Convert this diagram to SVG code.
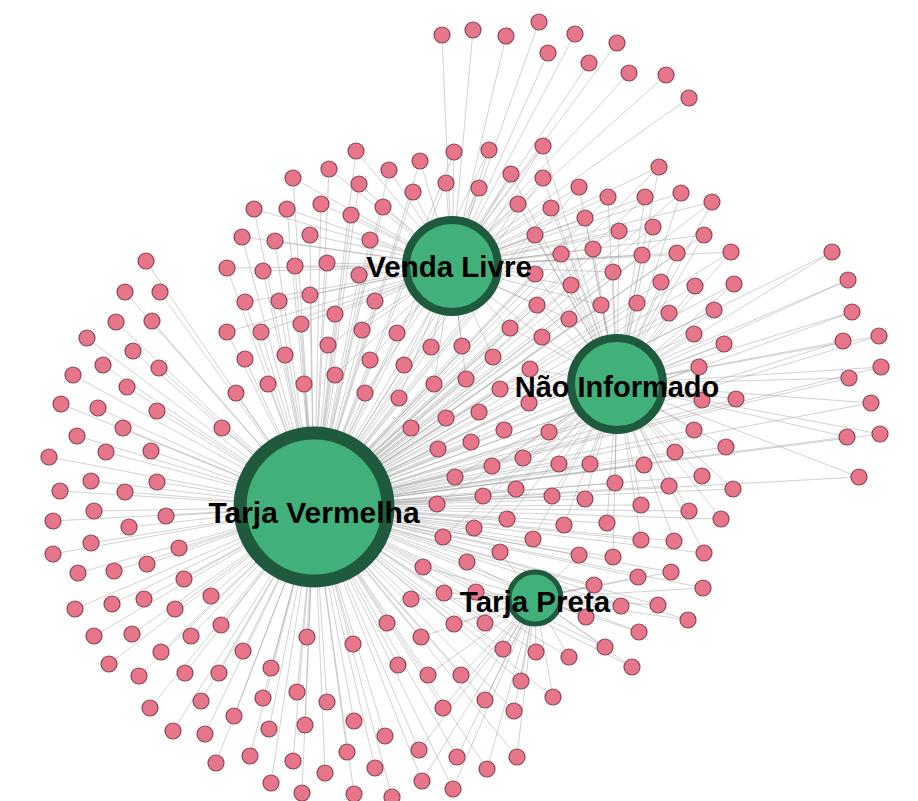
<svg xmlns="http://www.w3.org/2000/svg" width="918" height="801" viewBox="0 0 918 801">
<style>
.e{fill:none;stroke:#a0a0a0;stroke-width:0.8;stroke-opacity:0.6}
.p{fill:#e8768a;stroke:#8a4653;stroke-width:1.2}
.hub{fill:#41b07b;stroke:#1f5a3e}
.lbl{font-family:"Liberation Sans",Arial,sans-serif;font-weight:bold;fill:#000;text-anchor:middle}
</style>
<rect width="918" height="801" fill="#fff"/>
<g id="edges">
<path class="e" d="M293 178L314 507M254 209L314 507M287 209L314 507M242 237L314 507M275 241L314 507M227 268L314 507M263 271L314 507M295 266L314 507M245 302L314 507M279 301L314 507M227 332L314 507M261 332L314 507M310 235L314 507M310 295L314 507M301 324L314 507M146 261L314 507M125 292L314 507M160 292L314 507M116 322L314 507M152 321L314 507M87 338L314 507M133 351L314 507M103 365L314 507M159 368L314 507M245 359L314 507M285 355L314 507M73 375L314 507M127 387L314 507M236 393L314 507M268 384L314 507M61 404L314 507M98 408L314 507M157 411L314 507M123 428L314 507M222 428L314 507M77 436L314 507M106 452L314 507M151 451L314 507M304 384L314 507M49 457L314 507M91 481L314 507M60 491L314 507M157 482L314 507M125 492L314 507M94 511L314 507M53 521L314 507M166 516L314 507M129 527L314 507M91 543L314 507M179 548L314 507M53 554L314 507M147 564L314 507M114 571L314 507M78 573L314 507M184 579L314 507M211 596L314 507M144 599L314 507M112 604L314 507M75 609L314 507M175 609L314 507M221 625L314 507M94 636L314 507M132 634L314 507M191 636L314 507M161 652L314 507M243 651L314 507M109 664L314 507M139 676L314 507M185 673L314 507M219 673L314 507M271 668L314 507M201 701L314 507M263 698L314 507M150 708L314 507M234 716L314 507M173 731L314 507M205 734L314 507M269 729L314 507M250 756L314 507M293 761L314 507M216 763L314 507M271 783L314 507M387 623L314 507M307 637L314 507M353 644L314 507M398 665L314 507M327 702L314 507M297 692L314 507M354 721L314 507M305 725L314 507M385 736L314 507M347 752L314 507M375 768L314 507M325 773L314 507M354 794L314 507M392 797L314 507M302 793L314 507M479 412L314 507M446 418L314 507M411 428L314 507M471 442L314 507M438 449L314 507M356 151L314 507M454 152L314 507M489 150L314 507M329 169L314 507M389 170L314 507M420 161L314 507M359 184L314 507M413 192L314 507M446 183L314 507M479 188L314 507M321 204L314 507M383 207L314 507M351 215L314 507M370 240L314 507M327 263L314 507M359 275L314 507M375 301L314 507M335 314L314 507M362 330L314 507M397 333L314 507M328 345L314 507M431 347L314 507M462 346L314 507M493 357L314 507M370 360L314 507M404 365L314 507M335 375L314 507M434 384L314 507M466 379L314 507M365 393L314 507M399 398L314 507M543 146L314 507M511 174L314 507M543 178L314 507M579 187L314 507M608 197L314 507M518 204L314 507M551 208L314 507M585 218L314 507M535 235L314 507M593 249L314 507M561 254L314 507M535 274L314 507M613 272L314 507M571 285L314 507M537 305L314 507M601 305L314 507M510 328L314 507M569 319L314 507M542 337L314 507M659 167L314 507M645 197L314 507M681 193L314 507M712 202L314 507M619 231L314 507M653 227L314 507M704 235L314 507M642 255L314 507M677 253L314 507M731 252L314 507M500 389L314 507M530 369L314 507M529 403L314 507M504 430L314 507M549 432L314 507M661 282L314 507M695 286L314 507M734 284L314 507M637 303L314 507M669 313L314 507M714 310L314 507M694 334L314 507M724 344L314 507M699 367L314 507M702 400L314 507M736 399L314 507M694 430L314 507M726 447L314 507M675 452L314 507M832 252L314 507M848 280L314 507M852 312L314 507M843 341L314 507M879 336L314 507M881 367L314 507M849 378L314 507M871 403L314 507M847 437L314 507M880 434L314 507M859 477L314 507M644 465L314 507M702 476L314 507M615 483L314 507M669 486L314 507M733 489L314 507M641 505L314 507M689 511L314 507M721 519L314 507M607 523L314 507M641 540L314 507M674 541L314 507M704 553L314 507M613 557L314 507M523 458L314 507M492 466L314 507M559 464L314 507M590 464L314 507M455 477L314 507M516 489L314 507M483 496L314 507M552 496L314 507M585 499L314 507M437 504L314 507M474 528L314 507M507 519L314 507M564 525L314 507M443 537L314 507M533 539L314 507M671 572L314 507M638 577L314 507M703 588L314 507M621 606L314 507M658 605L314 507M688 620L314 507M639 632L314 507M605 647L314 507M632 667L314 507M500 552L314 507M579 555L314 507M467 562L314 507M423 567L314 507M594 585L314 507M444 593L314 507M476 592L314 507M411 599L314 507M586 617L314 507M454 624L314 507M485 623L314 507M421 637L314 507M503 649L314 507M536 652L314 507M569 657L314 507M428 675L314 507M461 675L314 507M521 681L314 507M553 697L314 507M485 700L314 507M514 711L314 507M443 708L314 507M419 750L314 507M457 757L314 507M517 757L314 507M487 769L314 507M422 781L314 507M453 789L314 507"/>
<path class="e" d="M442 35L452 266M473 30L452 266M506 36L452 266M539 22L452 266M575 34L452 266M617 43L452 266M548 53L452 266M589 63L452 266M629 73L452 266M666 75L452 266M689 98L452 266M293 178L452 266M254 209L452 266M287 209L452 266M242 237L452 266M275 241L452 266M227 268L452 266M263 271L452 266M295 266L452 266M245 302L452 266M279 301L452 266M227 332L452 266M261 332L452 266M310 235L452 266M310 295L452 266M301 324L452 266M356 151L452 266M454 152L452 266M489 150L452 266M329 169L452 266M389 170L452 266M420 161L452 266M359 184L452 266M413 192L452 266M446 183L452 266M479 188L452 266M321 204L452 266M383 207L452 266M351 215L452 266M370 240L452 266M327 263L452 266M359 275L452 266M375 301L452 266M335 314L452 266M362 330L452 266M397 333L452 266M328 345L452 266M431 347L452 266M462 346L452 266M493 357L452 266M370 360L452 266M404 365L452 266M335 375L452 266M434 384L452 266M466 379L452 266M365 393L452 266M399 398L452 266M543 146L452 266M511 174L452 266M543 178L452 266M579 187L452 266M608 197L452 266M518 204L452 266M551 208L452 266M585 218L452 266M535 235L452 266M593 249L452 266M561 254L452 266M535 274L452 266M613 272L452 266M571 285L452 266M537 305L452 266M601 305L452 266M510 328L452 266M569 319L452 266M542 337L452 266M659 167L452 266M645 197L452 266M681 193L452 266M712 202L452 266M619 231L452 266M653 227L452 266M704 235L452 266M642 255L452 266M677 253L452 266M731 252L452 266"/>
<path class="e" d="M543 146L617 384M511 174L617 384M543 178L617 384M579 187L617 384M608 197L617 384M518 204L617 384M551 208L617 384M585 218L617 384M535 235L617 384M593 249L617 384M561 254L617 384M535 274L617 384M613 272L617 384M571 285L617 384M537 305L617 384M601 305L617 384M510 328L617 384M569 319L617 384M542 337L617 384M659 167L617 384M645 197L617 384M681 193L617 384M712 202L617 384M619 231L617 384M653 227L617 384M704 235L617 384M642 255L617 384M677 253L617 384M731 252L617 384M500 389L617 384M530 369L617 384M529 403L617 384M504 430L617 384M549 432L617 384M661 282L617 384M695 286L617 384M734 284L617 384M637 303L617 384M669 313L617 384M714 310L617 384M694 334L617 384M724 344L617 384M699 367L617 384M702 400L617 384M736 399L617 384M694 430L617 384M726 447L617 384M675 452L617 384M832 252L617 384M848 280L617 384M852 312L617 384M843 341L617 384M879 336L617 384M881 367L617 384M849 378L617 384M871 403L617 384M847 437L617 384M880 434L617 384M859 477L617 384M644 465L617 384M702 476L617 384M615 483L617 384M669 486L617 384M733 489L617 384M641 505L617 384M689 511L617 384M721 519L617 384M607 523L617 384M641 540L617 384M674 541L617 384M704 553L617 384M613 557L617 384M523 458L617 384M492 466L617 384M559 464L617 384M590 464L617 384M455 477L617 384M516 489L617 384M483 496L617 384M552 496L617 384M585 499L617 384M437 504L617 384M474 528L617 384M507 519L617 384M564 525L617 384M443 537L617 384M533 539L617 384"/>
<path class="e" d="M671 572L535 598M638 577L535 598M703 588L535 598M621 606L535 598M658 605L535 598M688 620L535 598M639 632L535 598M605 647L535 598M632 667L535 598M500 552L535 598M579 555L535 598M467 562L535 598M423 567L535 598M594 585L535 598M444 593L535 598M476 592L535 598M411 599L535 598M586 617L535 598M454 624L535 598M485 623L535 598M421 637L535 598M503 649L535 598M536 652L535 598M569 657L535 598M428 675L535 598M461 675L535 598M521 681L535 598M553 697L535 598M485 700L535 598M514 711L535 598M443 708L535 598M419 750L535 598M457 757L535 598M517 757L535 598M487 769L535 598M422 781L535 598M453 789L535 598"/>
</g>
<g id="items" class="p">
<g id="n1"><circle cx="442" cy="35" r="8"/></g><g id="n2"><circle cx="473" cy="30" r="8"/></g><g id="n3"><circle cx="506" cy="36" r="8"/></g><g id="n4"><circle cx="539" cy="22" r="8"/></g><g id="n5"><circle cx="575" cy="34" r="8"/></g><g id="n6"><circle cx="617" cy="43" r="8"/></g><g id="n7"><circle cx="548" cy="53" r="8"/></g><g id="n8"><circle cx="589" cy="63" r="8"/></g><g id="n9"><circle cx="629" cy="73" r="8"/></g><g id="n10"><circle cx="666" cy="75" r="8"/></g><g id="n11"><circle cx="689" cy="98" r="8"/></g>
<g id="n12"><circle cx="293" cy="178" r="8"/></g><g id="n13"><circle cx="254" cy="209" r="8"/></g><g id="n14"><circle cx="287" cy="209" r="8"/></g><g id="n15"><circle cx="242" cy="237" r="8"/></g><g id="n16"><circle cx="275" cy="241" r="8"/></g><g id="n17"><circle cx="227" cy="268" r="8"/></g><g id="n18"><circle cx="263" cy="271" r="8"/></g><g id="n19"><circle cx="295" cy="266" r="8"/></g><g id="n20"><circle cx="245" cy="302" r="8"/></g><g id="n21"><circle cx="279" cy="301" r="8"/></g><g id="n22"><circle cx="227" cy="332" r="8"/></g><g id="n23"><circle cx="261" cy="332" r="8"/></g><g id="n24"><circle cx="310" cy="235" r="8"/></g><g id="n25"><circle cx="310" cy="295" r="8"/></g><g id="n26"><circle cx="301" cy="324" r="8"/></g>
<g id="n27"><circle cx="146" cy="261" r="8"/></g><g id="n28"><circle cx="125" cy="292" r="8"/></g><g id="n29"><circle cx="160" cy="292" r="8"/></g><g id="n30"><circle cx="116" cy="322" r="8"/></g><g id="n31"><circle cx="152" cy="321" r="8"/></g><g id="n32"><circle cx="87" cy="338" r="8"/></g><g id="n33"><circle cx="133" cy="351" r="8"/></g><g id="n34"><circle cx="103" cy="365" r="8"/></g><g id="n35"><circle cx="159" cy="368" r="8"/></g><g id="n36"><circle cx="245" cy="359" r="8"/></g><g id="n37"><circle cx="285" cy="355" r="8"/></g><g id="n38"><circle cx="73" cy="375" r="8"/></g><g id="n39"><circle cx="127" cy="387" r="8"/></g><g id="n40"><circle cx="236" cy="393" r="8"/></g><g id="n41"><circle cx="268" cy="384" r="8"/></g><g id="n42"><circle cx="61" cy="404" r="8"/></g><g id="n43"><circle cx="98" cy="408" r="8"/></g><g id="n44"><circle cx="157" cy="411" r="8"/></g><g id="n45"><circle cx="123" cy="428" r="8"/></g><g id="n46"><circle cx="222" cy="428" r="8"/></g><g id="n47"><circle cx="77" cy="436" r="8"/></g><g id="n48"><circle cx="106" cy="452" r="8"/></g><g id="n49"><circle cx="151" cy="451" r="8"/></g><g id="n50"><circle cx="304" cy="384" r="8"/></g>
<g id="n51"><circle cx="49" cy="457" r="8"/></g><g id="n52"><circle cx="91" cy="481" r="8"/></g><g id="n53"><circle cx="60" cy="491" r="8"/></g><g id="n54"><circle cx="157" cy="482" r="8"/></g><g id="n55"><circle cx="125" cy="492" r="8"/></g><g id="n56"><circle cx="94" cy="511" r="8"/></g><g id="n57"><circle cx="53" cy="521" r="8"/></g><g id="n58"><circle cx="166" cy="516" r="8"/></g><g id="n59"><circle cx="129" cy="527" r="8"/></g><g id="n60"><circle cx="91" cy="543" r="8"/></g><g id="n61"><circle cx="179" cy="548" r="8"/></g><g id="n62"><circle cx="53" cy="554" r="8"/></g><g id="n63"><circle cx="147" cy="564" r="8"/></g><g id="n64"><circle cx="114" cy="571" r="8"/></g><g id="n65"><circle cx="78" cy="573" r="8"/></g><g id="n66"><circle cx="184" cy="579" r="8"/></g><g id="n67"><circle cx="211" cy="596" r="8"/></g><g id="n68"><circle cx="144" cy="599" r="8"/></g><g id="n69"><circle cx="112" cy="604" r="8"/></g><g id="n70"><circle cx="75" cy="609" r="8"/></g><g id="n71"><circle cx="175" cy="609" r="8"/></g><g id="n72"><circle cx="221" cy="625" r="8"/></g><g id="n73"><circle cx="94" cy="636" r="8"/></g><g id="n74"><circle cx="132" cy="634" r="8"/></g><g id="n75"><circle cx="191" cy="636" r="8"/></g><g id="n76"><circle cx="161" cy="652" r="8"/></g><g id="n77"><circle cx="243" cy="651" r="8"/></g><g id="n78"><circle cx="109" cy="664" r="8"/></g><g id="n79"><circle cx="139" cy="676" r="8"/></g><g id="n80"><circle cx="185" cy="673" r="8"/></g><g id="n81"><circle cx="219" cy="673" r="8"/></g><g id="n82"><circle cx="271" cy="668" r="8"/></g><g id="n83"><circle cx="201" cy="701" r="8"/></g><g id="n84"><circle cx="263" cy="698" r="8"/></g><g id="n85"><circle cx="150" cy="708" r="8"/></g><g id="n86"><circle cx="234" cy="716" r="8"/></g><g id="n87"><circle cx="173" cy="731" r="8"/></g><g id="n88"><circle cx="205" cy="734" r="8"/></g><g id="n89"><circle cx="269" cy="729" r="8"/></g><g id="n90"><circle cx="250" cy="756" r="8"/></g><g id="n91"><circle cx="293" cy="761" r="8"/></g><g id="n92"><circle cx="216" cy="763" r="8"/></g><g id="n93"><circle cx="271" cy="783" r="8"/></g>
<g id="n94"><circle cx="387" cy="623" r="8"/></g><g id="n95"><circle cx="307" cy="637" r="8"/></g><g id="n96"><circle cx="353" cy="644" r="8"/></g><g id="n97"><circle cx="398" cy="665" r="8"/></g><g id="n98"><circle cx="327" cy="702" r="8"/></g><g id="n99"><circle cx="297" cy="692" r="8"/></g><g id="n100"><circle cx="354" cy="721" r="8"/></g><g id="n101"><circle cx="305" cy="725" r="8"/></g><g id="n102"><circle cx="385" cy="736" r="8"/></g><g id="n103"><circle cx="347" cy="752" r="8"/></g><g id="n104"><circle cx="375" cy="768" r="8"/></g><g id="n105"><circle cx="325" cy="773" r="8"/></g><g id="n106"><circle cx="354" cy="794" r="8"/></g><g id="n107"><circle cx="392" cy="797" r="8"/></g><g id="n108"><circle cx="302" cy="793" r="8"/></g>
<g id="n109"><circle cx="479" cy="412" r="8"/></g><g id="n110"><circle cx="446" cy="418" r="8"/></g><g id="n111"><circle cx="411" cy="428" r="8"/></g><g id="n112"><circle cx="471" cy="442" r="8"/></g><g id="n113"><circle cx="438" cy="449" r="8"/></g>
<g id="n114"><circle cx="356" cy="151" r="8"/></g><g id="n115"><circle cx="454" cy="152" r="8"/></g><g id="n116"><circle cx="489" cy="150" r="8"/></g><g id="n117"><circle cx="329" cy="169" r="8"/></g><g id="n118"><circle cx="389" cy="170" r="8"/></g><g id="n119"><circle cx="420" cy="161" r="8"/></g><g id="n120"><circle cx="359" cy="184" r="8"/></g><g id="n121"><circle cx="413" cy="192" r="8"/></g><g id="n122"><circle cx="446" cy="183" r="8"/></g><g id="n123"><circle cx="479" cy="188" r="8"/></g><g id="n124"><circle cx="321" cy="204" r="8"/></g><g id="n125"><circle cx="383" cy="207" r="8"/></g><g id="n126"><circle cx="351" cy="215" r="8"/></g><g id="n127"><circle cx="370" cy="240" r="8"/></g><g id="n128"><circle cx="327" cy="263" r="8"/></g><g id="n129"><circle cx="359" cy="275" r="8"/></g><g id="n130"><circle cx="375" cy="301" r="8"/></g><g id="n131"><circle cx="335" cy="314" r="8"/></g><g id="n132"><circle cx="362" cy="330" r="8"/></g><g id="n133"><circle cx="397" cy="333" r="8"/></g><g id="n134"><circle cx="328" cy="345" r="8"/></g><g id="n135"><circle cx="431" cy="347" r="8"/></g><g id="n136"><circle cx="462" cy="346" r="8"/></g><g id="n137"><circle cx="493" cy="357" r="8"/></g><g id="n138"><circle cx="370" cy="360" r="8"/></g><g id="n139"><circle cx="404" cy="365" r="8"/></g><g id="n140"><circle cx="335" cy="375" r="8"/></g><g id="n141"><circle cx="434" cy="384" r="8"/></g><g id="n142"><circle cx="466" cy="379" r="8"/></g><g id="n143"><circle cx="365" cy="393" r="8"/></g><g id="n144"><circle cx="399" cy="398" r="8"/></g>
<g id="n145"><circle cx="543" cy="146" r="8"/></g><g id="n146"><circle cx="511" cy="174" r="8"/></g><g id="n147"><circle cx="543" cy="178" r="8"/></g><g id="n148"><circle cx="579" cy="187" r="8"/></g><g id="n149"><circle cx="608" cy="197" r="8"/></g><g id="n150"><circle cx="518" cy="204" r="8"/></g><g id="n151"><circle cx="551" cy="208" r="8"/></g><g id="n152"><circle cx="585" cy="218" r="8"/></g><g id="n153"><circle cx="535" cy="235" r="8"/></g><g id="n154"><circle cx="593" cy="249" r="8"/></g><g id="n155"><circle cx="561" cy="254" r="8"/></g><g id="n156"><circle cx="535" cy="274" r="8"/></g><g id="n157"><circle cx="613" cy="272" r="8"/></g><g id="n158"><circle cx="571" cy="285" r="8"/></g><g id="n159"><circle cx="537" cy="305" r="8"/></g><g id="n160"><circle cx="601" cy="305" r="8"/></g><g id="n161"><circle cx="510" cy="328" r="8"/></g><g id="n162"><circle cx="569" cy="319" r="8"/></g><g id="n163"><circle cx="542" cy="337" r="8"/></g>
<g id="n164"><circle cx="659" cy="167" r="8"/></g><g id="n165"><circle cx="645" cy="197" r="8"/></g><g id="n166"><circle cx="681" cy="193" r="8"/></g><g id="n167"><circle cx="712" cy="202" r="8"/></g><g id="n168"><circle cx="619" cy="231" r="8"/></g><g id="n169"><circle cx="653" cy="227" r="8"/></g><g id="n170"><circle cx="704" cy="235" r="8"/></g><g id="n171"><circle cx="642" cy="255" r="8"/></g><g id="n172"><circle cx="677" cy="253" r="8"/></g><g id="n173"><circle cx="731" cy="252" r="8"/></g>
<g id="n174"><circle cx="500" cy="389" r="8"/></g><g id="n175"><circle cx="530" cy="369" r="8"/></g><g id="n176"><circle cx="529" cy="403" r="8"/></g><g id="n177"><circle cx="504" cy="430" r="8"/></g><g id="n178"><circle cx="549" cy="432" r="8"/></g><g id="n179"><circle cx="661" cy="282" r="8"/></g><g id="n180"><circle cx="695" cy="286" r="8"/></g><g id="n181"><circle cx="734" cy="284" r="8"/></g><g id="n182"><circle cx="637" cy="303" r="8"/></g><g id="n183"><circle cx="669" cy="313" r="8"/></g><g id="n184"><circle cx="714" cy="310" r="8"/></g><g id="n185"><circle cx="694" cy="334" r="8"/></g><g id="n186"><circle cx="724" cy="344" r="8"/></g><g id="n187"><circle cx="699" cy="367" r="8"/></g><g id="n188"><circle cx="702" cy="400" r="8"/></g><g id="n189"><circle cx="736" cy="399" r="8"/></g><g id="n190"><circle cx="694" cy="430" r="8"/></g><g id="n191"><circle cx="726" cy="447" r="8"/></g><g id="n192"><circle cx="675" cy="452" r="8"/></g>
<g id="n193"><circle cx="832" cy="252" r="8"/></g><g id="n194"><circle cx="848" cy="280" r="8"/></g><g id="n195"><circle cx="852" cy="312" r="8"/></g><g id="n196"><circle cx="843" cy="341" r="8"/></g><g id="n197"><circle cx="879" cy="336" r="8"/></g><g id="n198"><circle cx="881" cy="367" r="8"/></g><g id="n199"><circle cx="849" cy="378" r="8"/></g><g id="n200"><circle cx="871" cy="403" r="8"/></g><g id="n201"><circle cx="847" cy="437" r="8"/></g><g id="n202"><circle cx="880" cy="434" r="8"/></g><g id="n203"><circle cx="859" cy="477" r="8"/></g>
<g id="n204"><circle cx="644" cy="465" r="8"/></g><g id="n205"><circle cx="702" cy="476" r="8"/></g><g id="n206"><circle cx="615" cy="483" r="8"/></g><g id="n207"><circle cx="669" cy="486" r="8"/></g><g id="n208"><circle cx="733" cy="489" r="8"/></g><g id="n209"><circle cx="641" cy="505" r="8"/></g><g id="n210"><circle cx="689" cy="511" r="8"/></g><g id="n211"><circle cx="721" cy="519" r="8"/></g><g id="n212"><circle cx="607" cy="523" r="8"/></g><g id="n213"><circle cx="641" cy="540" r="8"/></g><g id="n214"><circle cx="674" cy="541" r="8"/></g><g id="n215"><circle cx="704" cy="553" r="8"/></g><g id="n216"><circle cx="613" cy="557" r="8"/></g>
<g id="n217"><circle cx="523" cy="458" r="8"/></g><g id="n218"><circle cx="492" cy="466" r="8"/></g><g id="n219"><circle cx="559" cy="464" r="8"/></g><g id="n220"><circle cx="590" cy="464" r="8"/></g><g id="n221"><circle cx="455" cy="477" r="8"/></g><g id="n222"><circle cx="516" cy="489" r="8"/></g><g id="n223"><circle cx="483" cy="496" r="8"/></g><g id="n224"><circle cx="552" cy="496" r="8"/></g><g id="n225"><circle cx="585" cy="499" r="8"/></g><g id="n226"><circle cx="437" cy="504" r="8"/></g><g id="n227"><circle cx="474" cy="528" r="8"/></g><g id="n228"><circle cx="507" cy="519" r="8"/></g><g id="n229"><circle cx="564" cy="525" r="8"/></g><g id="n230"><circle cx="443" cy="537" r="8"/></g><g id="n231"><circle cx="533" cy="539" r="8"/></g>
<g id="n232"><circle cx="671" cy="572" r="8"/></g><g id="n233"><circle cx="638" cy="577" r="8"/></g><g id="n234"><circle cx="703" cy="588" r="8"/></g><g id="n235"><circle cx="621" cy="606" r="8"/></g><g id="n236"><circle cx="658" cy="605" r="8"/></g><g id="n237"><circle cx="688" cy="620" r="8"/></g><g id="n238"><circle cx="639" cy="632" r="8"/></g><g id="n239"><circle cx="605" cy="647" r="8"/></g><g id="n240"><circle cx="632" cy="667" r="8"/></g>
<g id="n241"><circle cx="500" cy="552" r="8"/></g><g id="n242"><circle cx="579" cy="555" r="8"/></g><g id="n243"><circle cx="467" cy="562" r="8"/></g><g id="n244"><circle cx="423" cy="567" r="8"/></g><g id="n245"><circle cx="594" cy="585" r="8"/></g><g id="n246"><circle cx="444" cy="593" r="8"/></g><g id="n247"><circle cx="476" cy="592" r="8"/></g><g id="n248"><circle cx="411" cy="599" r="8"/></g><g id="n249"><circle cx="586" cy="617" r="8"/></g><g id="n250"><circle cx="454" cy="624" r="8"/></g><g id="n251"><circle cx="485" cy="623" r="8"/></g><g id="n252"><circle cx="421" cy="637" r="8"/></g><g id="n253"><circle cx="503" cy="649" r="8"/></g><g id="n254"><circle cx="536" cy="652" r="8"/></g><g id="n255"><circle cx="569" cy="657" r="8"/></g><g id="n256"><circle cx="428" cy="675" r="8"/></g><g id="n257"><circle cx="461" cy="675" r="8"/></g><g id="n258"><circle cx="521" cy="681" r="8"/></g><g id="n259"><circle cx="553" cy="697" r="8"/></g><g id="n260"><circle cx="485" cy="700" r="8"/></g><g id="n261"><circle cx="514" cy="711" r="8"/></g><g id="n262"><circle cx="443" cy="708" r="8"/></g><g id="n263"><circle cx="419" cy="750" r="8"/></g><g id="n264"><circle cx="457" cy="757" r="8"/></g><g id="n265"><circle cx="517" cy="757" r="8"/></g><g id="n266"><circle cx="487" cy="769" r="8"/></g><g id="n267"><circle cx="422" cy="781" r="8"/></g><g id="n268"><circle cx="453" cy="789" r="8"/></g>
</g>
<g id="tarja-vermelha"><circle class="hub" cx="314" cy="507" r="74" stroke-width="13"/></g>
<g id="venda-livre"><circle class="hub" cx="452" cy="266" r="46" stroke-width="8"/></g>
<g id="nao-informado"><circle class="hub" cx="617" cy="384" r="46" stroke-width="8"/></g>
<g id="tarja-preta"><circle class="hub" cx="535" cy="598" r="26" stroke-width="5"/></g>
<g id="labels">
<text class="lbl" x="314" y="523" font-size="30">Tarja Vermelha</text>
<text class="lbl" x="449" y="277" font-size="29.5">Venda Livre</text>
<text class="lbl" x="617" y="397" font-size="29">Não Informado</text>
<text class="lbl" x="535" y="612" font-size="29.5">Tarja Preta</text>
</g>
</svg>
